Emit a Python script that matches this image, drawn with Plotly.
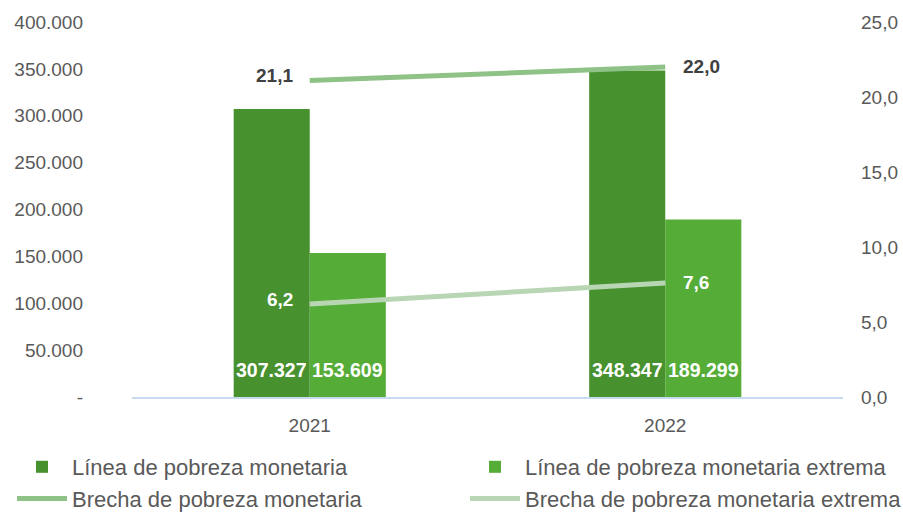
import plotly.graph_objects as go

# Data
years = ["2021", "2022"]
linea_pobreza = [307327, 348347]
linea_pobreza_extrema = [153609, 189299]
brecha_pobreza = [21.1, 22.0]
brecha_pobreza_extrema = [6.2, 7.6]

left_tickvals = [0, 50000, 100000, 150000, 200000, 250000, 300000, 350000, 400000]
left_ticktext = ["-", "50.000", "100.000", "150.000", "200.000", "250.000",
                 "300.000", "350.000", "400.000"]

FONT = "Liberation Sans, Arial, sans-serif"
DARK = "#47912f"
LIGHT = "#55ad38"
LINE1 = "#8fc286"
LINE2 = "#b9d6b4"


def miles(v):
    return f"{v:,.0f}".replace(",", ".")


def dec(v):
    return f"{v:.1f}".replace(".", ",")


fig = go.Figure()
fig.add_trace(go.Bar(x=years, y=linea_pobreza, name="Línea de pobreza monetaria",
                     marker=dict(color=DARK, line=dict(width=0)), offsetgroup="a",
                     legend="legend"))
fig.add_trace(go.Bar(x=years, y=linea_pobreza_extrema, name="Línea de pobreza monetaria extrema",
                     marker=dict(color=LIGHT, line=dict(width=0)), offsetgroup="b",
                     legend="legend2"))
fig.add_trace(go.Scatter(x=years, y=brecha_pobreza, name="Brecha de pobreza monetaria",
                         mode="lines", line=dict(color=LINE1, width=5), yaxis="y2",
                         legend="legend"))
fig.add_trace(go.Scatter(x=years, y=brecha_pobreza_extrema, name="Brecha de pobreza monetaria extrema",
                         mode="lines", line=dict(color=LINE2, width=5), yaxis="y2",
                         legend="legend2"))

annotations = []
# values at the foot of each bar (x given as category index)
for i in range(len(years)):
    for vals, shift in ((linea_pobreza, -38), (linea_pobreza_extrema, 38)):
        annotations.append(dict(x=i, y=0, xref="x", yref="y", text=f"<b>{miles(vals[i])}</b>",
                                showarrow=False, xshift=shift, yanchor="bottom", yshift=14,
                                font=dict(family=FONT, size=19.5, color="white")))
# values at the ends of each line
last = len(years) - 1
for series, color in ((brecha_pobreza, "#404040"), (brecha_pobreza_extrema, "white")):
    annotations.append(dict(x=0, y=series[0], xref="x", yref="y2", text=f"<b>{dec(series[0])}</b>",
                            showarrow=False, xanchor="right", xshift=-15, yshift=5,
                            font=dict(family=FONT, size=19, color=color)))
    annotations.append(dict(x=last, y=series[last], xref="x", yref="y2", text=f"<b>{dec(series[last])}</b>",
                            showarrow=False, xanchor="left", xshift=16, yshift=1,
                            font=dict(family=FONT, size=19, color=color)))

legend_common = dict(orientation="v", xref="container", yref="container", y=1 - 446 / 514,
                     xanchor="left", yanchor="top", traceorder="normal",
                     font=dict(family=FONT, size=22, color="#595959"), itemwidth=50,
                     tracegroupgap=0, bgcolor="rgba(0,0,0,0)")

fig.update_layout(
    width=903, height=514,
    margin=dict(l=132, r=60, t=22, b=117, autoexpand=False),
    paper_bgcolor="white", plot_bgcolor="white",
    barmode="group", bargap=0.572, bargroupgap=0,
    separators=",.",
    font=dict(family=FONT, size=19, color="#595959"),
    xaxis=dict(type="category", range=[-0.5, 1.5], showline=True, linecolor="#c6dbf0",
               linewidth=2, showgrid=False, ticks="", automargin=False,
               tickfont=dict(size=19, color="#595959"), ticklabelstandoff=10),
    yaxis=dict(range=[0, 400000], tickvals=left_tickvals, ticktext=left_ticktext,
               showgrid=False, zeroline=False, showline=False, ticks="", automargin=False,
               ticklabelstandoff=48, tickfont=dict(size=19, color="#595959")),
    yaxis2=dict(range=[0, 25], dtick=5, tickformat=".1f", overlaying="y", side="right",
                showgrid=False, zeroline=False, showline=False, ticks="", automargin=False,
                ticklabelstandoff=17, tickfont=dict(size=19, color="#595959")),
    legend=dict(x=12 / 903, **legend_common),
    legend2=dict(x=465 / 903, **legend_common),
    annotations=annotations,
    showlegend=True,
)

fig.write_html("out.html")
